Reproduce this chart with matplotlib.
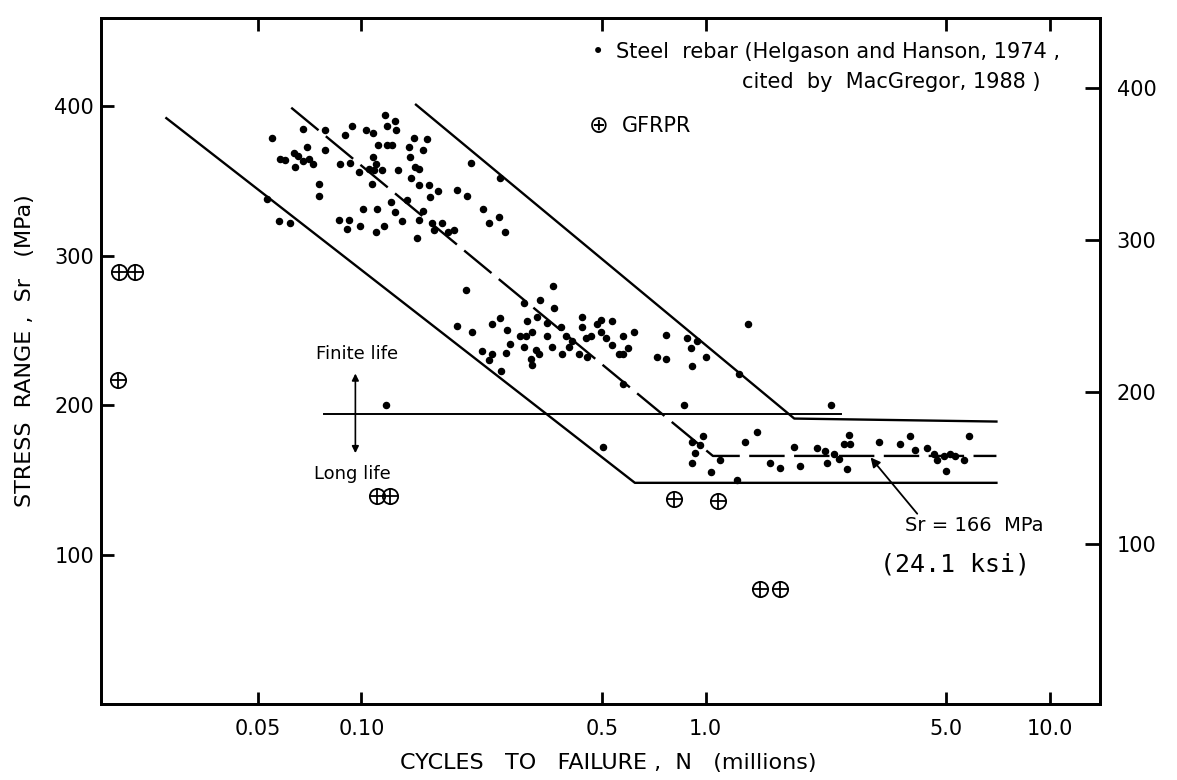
import matplotlib
matplotlib.use("Agg")
import matplotlib.pyplot as plt

# Steel rebar tests: cycles to failure N (millions) and stress range Sr (MPa)
steel_n = [0.0531, 0.0549, 0.0578, 0.0598, 0.0635, 0.0652, 0.0674, 0.0706, 0.0721, 0.0643,
           0.0575, 0.0618, 0.0678, 0.0693, 0.0785, 0.0781, 0.0753, 0.0753, 0.0869, 0.0894,
           0.0938, 0.0928, 0.0985, 0.103, 0.108, 0.105, 0.109, 0.110, 0.115, 0.108,
           0.112, 0.117, 0.119, 0.125, 0.126, 0.119, 0.123, 0.128, 0.107, 0.122,
           0.125, 0.131, 0.0858, 0.0917, 0.0993, 0.0910, 0.101, 0.111, 0.110, 0.116,
           0.136, 0.142, 0.155, 0.137, 0.151, 0.138, 0.143, 0.147, 0.139, 0.147,
           0.157, 0.167, 0.158, 0.189, 0.203, 0.208, 0.252, 0.225, 0.251, 0.235,
           0.261, 0.147, 0.145, 0.151, 0.160, 0.163, 0.171, 0.179, 0.186, 0.201,
           0.360, 0.296, 0.330, 0.362, 0.189, 0.210, 0.239, 0.252, 0.264, 0.271,
           0.288, 0.302, 0.323, 0.345, 0.297, 0.311, 0.322, 0.328, 0.313, 0.301,
           0.314, 0.347, 0.358, 0.381, 0.394, 0.410, 0.401, 0.383, 0.436, 0.436,
           0.450, 0.465, 0.482, 0.498, 0.498, 0.514, 0.535, 0.560, 0.536, 0.428,
           0.452, 0.576, 0.620, 0.595, 0.575, 0.768, 0.721, 0.766, 0.883, 0.944,
           0.906, 1.00, 0.910, 1.33, 1.25, 0.577, 0.866, 0.502, 0.254, 0.224,
           0.239, 0.263, 0.235, 0.118, 1.41, 1.30, 0.916, 0.934, 0.914, 0.980,
           0.966, 1.04, 1.10, 1.54, 1.64, 1.81, 1.23, 2.31, 2.61, 2.53,
           2.63, 2.25, 2.57, 1.88, 3.19, 3.67, 3.93, 4.05, 5.01, 5.82,
           5.62, 2.11, 2.22, 2.36, 2.44, 4.39, 4.60, 4.69, 4.92, 5.12, 5.29]
steel_sr = [338, 379, 365, 364, 369, 367, 363, 365, 361, 359,
            323, 322, 385, 373, 384, 371, 348, 340, 361, 381,
            387, 362, 356, 384, 382, 358, 357, 361, 357, 366,
            374, 394, 387, 390, 384, 374, 374, 357, 348, 336,
            329, 323, 324, 324, 320, 318, 331, 331, 316, 320,
            337, 379, 378, 373, 371, 366, 359, 358, 352, 347,
            347, 343, 339, 344, 340, 362, 352, 331, 326, 322,
            316, 324, 312, 330, 322, 317, 322, 316, 317, 277,
            280, 268, 270, 265, 253, 249, 254, 258, 250, 241,
            246, 256, 259, 255, 239, 231, 237, 234, 227, 246,
            249, 246, 239, 252, 246, 243, 239, 234, 259, 252,
            245, 246, 254, 257, 249, 245, 240, 234, 256, 234,
            232, 246, 249, 238, 234, 247, 232, 231, 245, 243,
            238, 232, 226, 254, 221, 214, 200, 172, 223, 236,
            234, 235, 230, 200, 182, 175, 175, 168, 161, 179,
            173, 155, 163, 161, 158, 172, 150, 200, 180, 174,
            174, 161, 157, 159, 175, 174, 179, 170, 156, 179,
            163, 171, 169, 167, 164, 171, 167, 163, 166, 167, 166]

# GFRP rebar tests
gfrp_n = [0.0198, 0.0219, 0.0196, 0.111, 0.121, 0.808, 1.09, 1.44, 1.65]
gfrp_sr = [289, 289, 217, 139, 139, 137, 136, 77, 77]

# S-N band lines
lower_n = [0.0271, 0.623, 7.0]
lower_sr = [392, 148, 148]
mean_n = [0.0625, 1.05, 7.0]
mean_sr = [399, 166, 166]
upper_n = [0.144, 1.81, 7.0]
upper_sr = [401, 191, 189]
limit_n = [0.0777, 2.47]
limit_sr = [194, 194]

x_ticks = [0.05, 0.1, 0.5, 1.0, 5.0, 10.0]
x_labels = ["0.05", "0.10", "0.5", "1.0", "5.0", "10.0"]
y_ticks = [100, 200, 300, 400]

plt.rcParams["font.family"] = "DejaVu Sans"

fig = plt.figure(figsize=(11.77, 7.8), dpi=100)
ax = fig.add_axes([0.0858, 0.0974, 0.8488, 0.8795])

ax.plot(lower_n, lower_sr, color="black", lw=1.7)
ax.plot(upper_n, upper_sr, color="black", lw=1.7)
ax.plot(mean_n, mean_sr, color="black", lw=1.7, linestyle=(0, (15, 4)))
ax.plot(limit_n, limit_sr, color="black", lw=1.4)

ax.plot(steel_n, steel_sr, "o", ms=4.4, color="black", ls="none")
ax.plot(gfrp_n, gfrp_sr, "o", ms=11, mfc="none", mec="black", mew=1.3, ls="none")
ax.plot(gfrp_n, gfrp_sr, "+", ms=11, color="black", mew=1.3, ls="none")

ax.set_xscale("log")
ax.set_xlim(0.0175, 14.0)
ax.set_ylim(0, 459)
ax.set_xticks(x_ticks)
ax.set_xticklabels(x_labels)
ax.minorticks_off()
ax.set_yticks(y_ticks)
ax.set_yticklabels([str(v) for v in y_ticks])

for s in ax.spines.values():
    s.set_linewidth(2.0)
ax.tick_params(axis="both", direction="in", length=9, width=2, top=True, labelsize=15)
ax.tick_params(axis="x", pad=11)
ax.tick_params(axis="y", pad=5)

# right axis, hand drawn slightly off the left one in the original
ax2 = ax.twinx()
ax2.set_ylim(-5.3, 446)
ax2.set_yticks(y_ticks)
ax2.set_yticklabels([str(v) for v in y_ticks])
ax2.tick_params(axis="y", direction="in", length=11, width=2, labelsize=15, pad=12)
for s in ax2.spines.values():
    s.set_linewidth(2.0)

# finite / long life annotation
ax.annotate("", xy=(0.096, 223), xytext=(0.096, 166),
            arrowprops=dict(arrowstyle="<|-|>", color="black", lw=1.2, mutation_scale=10))
ax.text(0.256, 0.510, "Finite life", transform=ax.transAxes, fontsize=13, ha="center", va="center")
ax.text(0.252, 0.335, "Long life", transform=ax.transAxes, fontsize=13, ha="center", va="center")

# mean line label
ax.annotate("", xy=(2.98, 166.4), xytext=(4.17, 125.9),
            arrowprops=dict(arrowstyle="-|>", color="black", lw=1.3, mutation_scale=14))
ax.text(0.805, 0.2605, "Sr = 166  MPa", transform=ax.transAxes, fontsize=14, ha="left", va="center")
ax.text(0.78, 0.204, "(24.1 ksi)", transform=ax.transAxes, fontsize=18, ha="left", va="center",
        family="DejaVu Sans Mono")

# key
ax.text(0.4975, 0.951, "\u2022", transform=ax.transAxes, fontsize=15, ha="center", va="center")
ax.text(0.516, 0.951, "Steel  rebar (Helgason and Hanson, 1974 ,", transform=ax.transAxes,
        fontsize=15, ha="left", va="center")
ax.text(0.94, 0.907, "cited  by  MacGregor, 1988 )", transform=ax.transAxes,
        fontsize=15, ha="right", va="center")
ax.text(0.4985, 0.842, "\u2295", transform=ax.transAxes, fontsize=17, ha="center", va="center")
ax.text(0.5215, 0.842, "GFRPR", transform=ax.transAxes, fontsize=15, ha="left", va="center")

fig.text(0.021, 0.55, "STRESS  RANGE ,  Sr   (MPa)", rotation=90, fontsize=16,
         ha="center", va="center")
fig.text(0.517, 0.022, "CYCLES   TO   FAILURE ,  N   (millions)", fontsize=16,
         ha="center", va="center")

fig.savefig("out.png", dpi=100)
